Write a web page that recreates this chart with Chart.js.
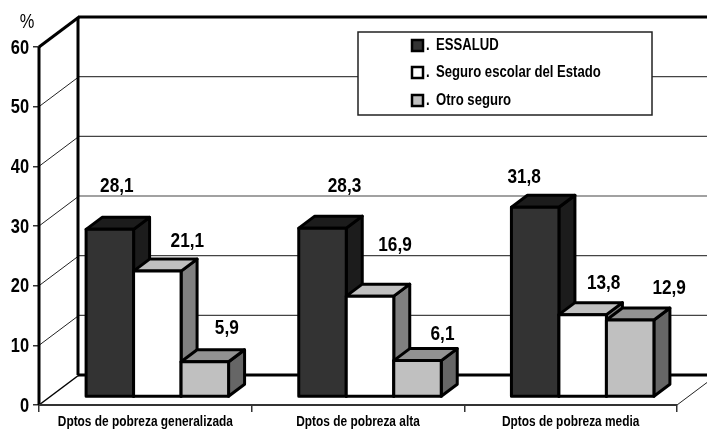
<!DOCTYPE html>
<html>
<head>
<meta charset="utf-8">
<title>Seguro de salud</title>
<script src="https://cdn.jsdelivr.net/npm/chart.js@4"></script>
<style>
html, body { margin: 0; padding: 0; background: #fff; }
canvas { display: block; }
</style>
</head>
<body>
<canvas id="chart" width="707" height="432"></canvas>
<script>
var categories = ["Dptos de pobreza generalizada", "Dptos de pobreza alta", "Dptos de pobreza media"];
var essalud = [28.1, 28.3, 31.8];
var seguroEscolar = [21.1, 16.9, 13.8];
var otroSeguro = [5.9, 6.1, 12.9];
var seriesNames = ["ESSALUD", "Seguro escolar del Estado", "Otro seguro"];
var yTicks = [0, 10, 20, 30, 40, 50, 60];

// hand placed value labels in the original, [dx, dy] from the top centre of each bar
var labelOffsets = [
	[[7, -43], [22, -42], [-11, -30]],
	[[30, -30], [25, -51], [21, -31]],
	[[22, -34], [25, -26], [39, -32]]
];

var FONT = "'Liberation Sans', Arial, sans-serif";
var NARROW = 0.82; // no Arial Narrow here, so squeeze the text sideways
var WALL = { dx: 40, dy: 30 };
var BAR_SHIFT = { dx: 12, dy: 8 };
var BAR_DEPTH = { dx: 16, dy: 12 };

var faces = [
	{ front: "#333333", top: "#1c1c1c", side: "#1c1c1c" },
	{ front: "#ffffff", top: "#c0c0c0", side: "#808080" },
	{ front: "#c0c0c0", top: "#929292", side: "#666666" }
];

function line(ctx, x1, y1, x2, y2, width, color) {
	ctx.beginPath();
	ctx.moveTo(x1, y1);
	ctx.lineTo(x2, y2);
	ctx.lineWidth = width;
	ctx.strokeStyle = color;
	ctx.stroke();
}

function poly(ctx, pts, fill) {
	ctx.beginPath();
	ctx.moveTo(pts[0][0], pts[0][1]);
	for (var i = 1; i < pts.length; i++) ctx.lineTo(pts[i][0], pts[i][1]);
	ctx.closePath();
	ctx.fillStyle = fill;
	ctx.fill();
	ctx.lineWidth = 3;
	ctx.strokeStyle = "#000";
	ctx.lineJoin = "round";
	ctx.stroke();
}

function narrowText(ctx, text, x, y, align, font) {
	ctx.save();
	ctx.translate(x, y);
	ctx.scale(NARROW, 1);
	ctx.font = font;
	ctx.textAlign = align;
	ctx.textBaseline = "middle";
	ctx.fillStyle = "#000";
	ctx.fillText(text, 0, 0);
	ctx.restore();
}

function drawWalls(chart) {
	var ctx = chart.ctx, y = chart.scales.y, x = chart.scales.x;
	var left = x.left, right = x.right;
	yTicks.forEach(function (v) {
		var py = y.getPixelForValue(v);
		if (v > 0 && v < 60) {
			line(ctx, left, py, left + WALL.dx, py - WALL.dy, 1, "#222");
			line(ctx, left + WALL.dx, py - WALL.dy, chart.width, py - WALL.dy, 1.2, "#444");
		}
	});
	var top = y.getPixelForValue(60), floor = y.getPixelForValue(0);
	line(ctx, left, top, left + WALL.dx, top - WALL.dy, 3, "#000");
	line(ctx, left + WALL.dx - 1, top - WALL.dy, chart.width, top - WALL.dy, 3, "#000");
	line(ctx, left + WALL.dx - 1, top - WALL.dy, left + WALL.dx - 1, floor - WALL.dy, 3, "#000");
	line(ctx, left + WALL.dx - 1, floor - WALL.dy, chart.width, floor - WALL.dy, 3, "#000");
	line(ctx, left, top, left, floor, 3, "#000");
	line(ctx, left, floor, left + WALL.dx, floor - WALL.dy, 1.5, "#000");
	line(ctx, right, floor, right + WALL.dx, floor - WALL.dy, 1, "#222");
	line(ctx, left, floor, right, floor, 2, "#333");
}

function drawBars3d(chart, index) {
	var ctx = chart.ctx, f = faces[index], meta = chart.getDatasetMeta(index);
	ctx.save();
	ctx.translate(BAR_SHIFT.dx, -BAR_SHIFT.dy);
	meta.data.forEach(function (bar) {
		var l = bar.x - bar.width / 2, r = bar.x + bar.width / 2;
		var dx = BAR_DEPTH.dx, dy = BAR_DEPTH.dy;
		poly(ctx, [[r, bar.y], [r + dx, bar.y - dy], [r + dx, bar.base - dy], [r, bar.base]], f.side);
		poly(ctx, [[l, bar.y], [l + dx, bar.y - dy], [r + dx, bar.y - dy], [r, bar.y]], f.top);
	});
	meta.controller.draw();
	meta.data.forEach(function (bar) {
		ctx.lineWidth = 3;
		ctx.strokeStyle = "#000";
		ctx.strokeRect(bar.x - bar.width / 2, bar.y, bar.width, bar.base - bar.y);
	});
	ctx.restore();
}

// walls first, then the series left to right so later bars sit over earlier sides
var scenePlugin = {
	id: "scene",
	beforeDatasetsDraw(chart) {
		drawWalls(chart);
		chart.data.datasets.forEach(function (ds, i) { drawBars3d(chart, i); });
		return false;
	}
};

// tick labels, value labels, legend box and the % sign
var textPlugin = {
	id: "texts",
	afterDraw(chart) {
		var ctx = chart.ctx, x = chart.scales.x, y = chart.scales.y;
		ctx.save();

		yTicks.forEach(function (v) {
			narrowText(ctx, String(v), x.left - 10, y.getPixelForValue(v) + 1, "right", "bold 20px " + FONT);
		});
		categories.forEach(function (c, i) {
			narrowText(ctx, c, x.getPixelForValue(i), 422, "center", "bold 14.5px " + FONT);
		});

		chart.data.datasets.forEach(function (ds, i) {
			chart.getDatasetMeta(i).data.forEach(function (bar, j) {
				var off = labelOffsets[i][j];
				var text = ds.data[j].toFixed(1).replace(".", ",");
				narrowText(ctx, text, bar.x + BAR_SHIFT.dx + off[0], bar.y - BAR_SHIFT.dy + off[1], "center", "bold 21px " + FONT);
			});
		});

		narrowText(ctx, "%", 27, 22, "center", "20px " + FONT);

		ctx.fillStyle = "#fff";
		ctx.fillRect(358, 32, 294, 83);
		ctx.lineWidth = 1.5;
		ctx.strokeStyle = "#222";
		ctx.strokeRect(358, 32, 294, 83);

		var rows = [46, 73, 101];
		seriesNames.forEach(function (name, i) {
			ctx.fillStyle = faces[i].front;
			ctx.fillRect(412, rows[i] - 6, 11, 11);
			ctx.lineWidth = 2.5;
			ctx.strokeStyle = "#000";
			ctx.strokeRect(412, rows[i] - 6, 11, 11);
			narrowText(ctx, ".", 426, rows[i], "left", "bold 16px " + FONT);
			narrowText(ctx, name, 436, rows[i], "left", "bold 16px " + FONT);
		});
		ctx.restore();
	}
};

function barSet(label, data, i) {
	return {
		label: label,
		data: data,
		backgroundColor: faces[i].front,
		borderWidth: 0,
		barPercentage: 1,
		categoryPercentage: 0.67
	};
}

new Chart(document.getElementById("chart"), {
	type: "bar",
	data: {
		labels: categories,
		datasets: [
			barSet(seriesNames[0], essalud, 0),
			barSet(seriesNames[1], seguroEscolar, 1),
			barSet(seriesNames[2], otroSeguro, 2)
		]
	},
	options: {
		responsive: false,
		animation: false,
		layout: { padding: { top: 47, right: 30, left: 0, bottom: 0 } },
		plugins: { legend: { display: false }, tooltip: { enabled: false } },
		scales: {
			x: {
				afterFit(scale) { scale.height = 27; },
				border: { display: false },
				grid: { drawOnChartArea: false, tickLength: 7, tickColor: "#333", lineWidth: 1.5 },
				ticks: { display: false }
			},
			y: {
				min: 0,
				max: 60,
				afterFit(scale) { scale.width = 39; },
				afterBuildTicks(scale) { scale.ticks = yTicks.map(function (v) { return { value: v }; }); },
				border: { display: false },
				grid: { drawOnChartArea: false, tickLength: 6, tickColor: "#333", lineWidth: 1.5 },
				ticks: { display: false }
			}
		}
	},
	plugins: [scenePlugin, textPlugin]
});
</script>
</body>
</html>
